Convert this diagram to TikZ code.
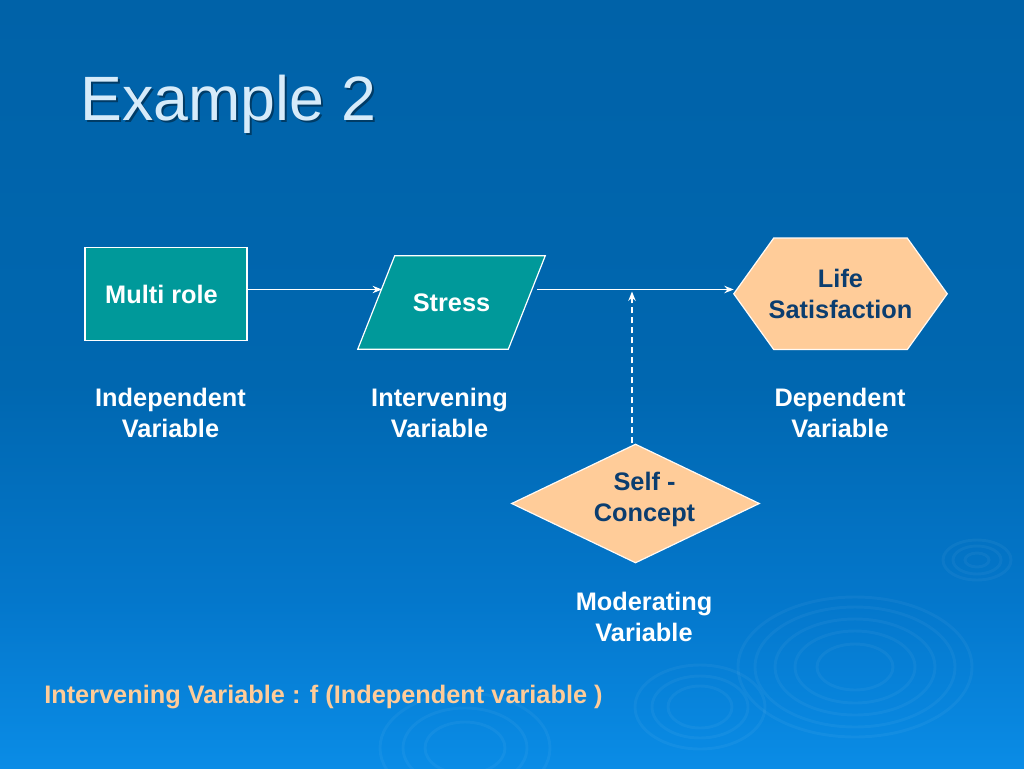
\documentclass[tikz,border=0pt]{standalone}
\usepackage{fontspec}
\setmainfont{Liberation Sans}
\usetikzlibrary{shapes.geometric,arrows.meta,calc}
\definecolor{bgtop}{HTML}{0062A8}
\definecolor{bgmid2}{HTML}{0067B0}
\definecolor{bgmid}{HTML}{0477CB}
\definecolor{bgbot}{HTML}{0A8CE6}
\definecolor{tealc}{HTML}{00999A}
\definecolor{peach}{HTML}{FFCC99}
\definecolor{navy}{HTML}{0B3D6F}
\definecolor{titlec}{HTML}{D6EBFA}
\pgfdeclareverticalshading{bgshade}{100bp}{color(0bp)=(bgbot); color(25bp)=(bgbot); color(36bp)=(bgmid); color(50bp)=(bgmid2); color(75bp)=(bgtop); color(100bp)=(bgtop)}
\pgfdeclarelayer{bglayer}
\pgfdeclarelayer{shapelayer}
\pgfsetlayers{bglayer,shapelayer,main}
\begin{document}
\begin{tikzpicture}[x=0.75pt,y=-0.75pt,
  lab/.style={font=\fontsize{19}{23.25}\selectfont\bfseries, text=white, align=center, inner sep=0pt},
  boxtext/.style={font=\fontsize{19}{23.25}\selectfont\bfseries, align=center, inner sep=0pt},
  conn/.style={draw=white, line width=1.25pt, -{Stealth[length=7pt,width=5.5pt]}},
  dconn/.style={conn, dash pattern=on 4.5pt off 3pt},
  tealshape/.style={fill=tealc, draw=white, line width=0.9pt},
  peachshape/.style={fill=peach, draw=white!90!peach, line width=0.9pt},
  ripple/.style={draw=white, opacity=0.045, line width=2.2pt}]
\useasboundingbox (0,0) rectangle (1024,768);
\begin{pgfonlayer}{bglayer}
\shade[shading=bgshade] (0,0) rectangle (1024,768);
% ripples
\foreach \rx/\ry in {117/70, 100/60, 80/48, 60/36, 38/23}
  \draw[ripple] (855,667) ellipse [x radius=\rx, y radius=\ry];
\foreach \rx/\ry in {65/42, 48/31, 32/21}
  \draw[ripple] (700,707) ellipse [x radius=\rx, y radius=\ry];
\foreach \rx/\ry in {34/20, 24/14, 12/7}
  \draw[ripple] (977,560) ellipse [x radius=\rx, y radius=\ry];
\foreach \rx/\ry in {85/55, 62/40, 40/26}
  \draw[ripple] (465,748) ellipse [x radius=\rx, y radius=\ry];
\end{pgfonlayer}

% title
\node[anchor=base west, inner sep=0pt, font=\fontsize{47}{56}\selectfont, text=black, opacity=0.4] (titleshadow) at (82.5,122.5) {Example 2};
\node[anchor=base west, inner sep=0pt, font=\fontsize{47}{56}\selectfont, text=titlec] (title) at (80,120) {Example 2};

% nodes
\node[tealshape, boxtext, text=white, minimum width=121.5pt, minimum height=70pt] (multi) at (166,294) {Multi role\hspace*{6.75pt}};
\node[boxtext, text=white, minimum width=140.25pt, minimum height=69.75pt] (stress) at (451.5,302.5) {Stress};
\node[boxtext, text=navy, minimum width=159.75pt, minimum height=83.25pt] (life) at (840.5,293.8) {Life\\Satisfaction};
\node[diamond, peachshape, minimum width=186pt, minimum height=89.25pt, inner sep=0pt] (selfd) at (635.5,503.5) {};
\node[boxtext, text=navy] (selft) at (644.5,499.7) {Self -\\Concept};

\begin{pgfonlayer}{shapelayer}
\filldraw[tealshape] ($(stress.north west)+(37,0)$) -- (stress.north east) -- ($(stress.south east)+(-37,0)$) -- (stress.south west) -- cycle;
\filldraw[peachshape] (life.west) -- ($(life.north west)+(40,0)$) -- ($(life.north east)+(-40,0)$) -- (life.east) -- ($(life.south east)+(-40,0)$) -- ($(life.south west)+(40,0)$) -- cycle;
\end{pgfonlayer}

% labels
\node[lab] (ivlab) at (170.5,412.5) {Independent\\Variable};
\node[lab] (intlab) at (439.5,412.5) {Intervening\\Variable};
\node[lab] (dvlab) at (840,412.5) {Dependent\\Variable};
\node[lab] (modlab) at (644,617.4) {Moderating\\Variable};

% connectors
\coordinate (sin) at (382,289.5);
\coordinate (sout) at (537,289.5);
\draw[conn] (multi.east |- sin) -- (sin);
\draw[conn] (sout) -- (life.west |- sout);
\draw[dconn] (selfd.north -| 632,0) -- ($(sout -| 632,0)+(0,2)$);

% bottom formula
\node[anchor=base west, inner sep=0pt, font=\fontsize{19}{23}\selectfont\bfseries, text=peach] (formula) at (44,703) {Intervening Variable : f (Independent variable )};
\end{tikzpicture}
\end{document}
